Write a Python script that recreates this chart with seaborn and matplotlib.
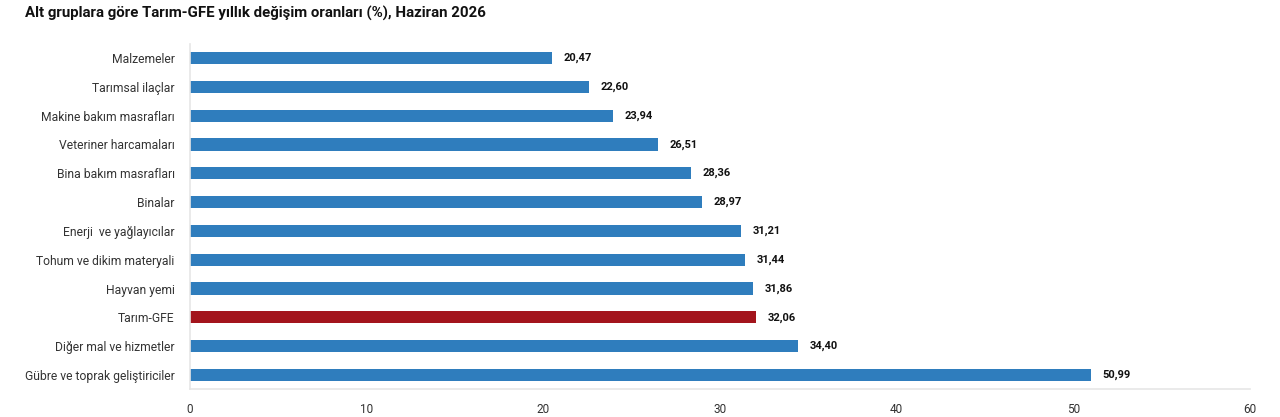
import matplotlib
matplotlib.use("Agg")
import matplotlib.pyplot as plt
import seaborn as sns
import pandas as pd

categories = ["Malzemeler", "Tarımsal ilaçlar", "Makine bakım masrafları",
              "Veteriner harcamaları", "Bina bakım masrafları", "Binalar",
              "Enerji  ve yağlayıcılar", "Tohum ve dikim materyali", "Hayvan yemi",
              "Tarım-GFE", "Diğer mal ve hizmetler", "Gübre ve toprak geliştiriciler"]
values = [20.47, 22.60, 23.94, 26.51, 28.36, 28.97, 31.21, 31.44, 31.86, 32.06, 34.40, 50.99]
value_labels = ["20,47", "22,60", "23,94", "26,51", "28,36", "28,97", "31,21", "31,44",
                "31,86", "32,06", "34,40", "50,99"]
x_ticks = [0, 10, 20, 30, 40, 50, 60]

sns.set_theme(style="white")
plt.rcParams['font.family'] = ['Roboto', 'DejaVu Sans']

df = pd.DataFrame({"cat": categories, "val": values})
palette = {c: ("#a3141c" if c == "Tarım-GFE" else "#2f7dbd") for c in categories}

fig = plt.figure(figsize=(12.8, 4.17), dpi=100)
ax = fig.add_axes([0.1484, 0.0662, 0.8282, 0.8292])
sns.barplot(data=df, x="val", y="cat", hue="cat", palette=palette, legend=False,
            width=0.42, ax=ax, order=categories, saturation=1, linewidth=0)

for i, (v, lab) in enumerate(zip(values, value_labels)):
    ax.text(v + 0.65, i, lab, va="center", ha="left", fontsize=8,
            fontweight="bold", color="#111111")

ax.set_xlim(0, 60)
ax.set_ylim(len(categories) - 0.5, -0.5)
ax.set_xticks(x_ticks)
ax.set_xticklabels([str(t) for t in x_ticks], fontsize=8.5, color="#333333")
ax.tick_params(axis="y", labelsize=8.7, colors="#333333", length=0, pad=11)
ax.tick_params(axis="x", length=0, pad=10)
ax.set_xlabel("")
ax.set_ylabel("")
for s in ["top", "right"]:
    ax.spines[s].set_visible(False)
for s in ["left", "bottom"]:
    ax.spines[s].set_color("#e6e6e6")
    ax.spines[s].set_linewidth(1.2)

fig.text(25 / 1280, 1 - 13 / 417, "Alt gruplara göre Tarım-GFE yıllık değişim oranları (%), Haziran 2026",
         fontsize=10.8, fontweight="bold", ha="left", va="center", color="#111111")

fig.savefig("out.png", dpi=100, facecolor="white")
